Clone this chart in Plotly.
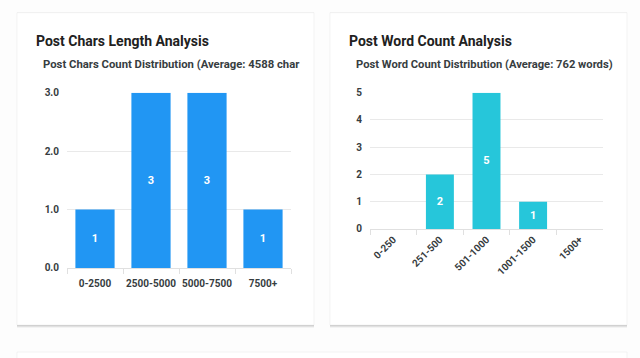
import plotly.graph_objects as go

chars_categories = ["0-2500", "2500-5000", "5000-7500", "7500+"]
chars_counts = [1, 3, 3, 1]
chars_ticks = [0, 1, 2, 3]
chars_tick_labels = ["0.0", "1.0", "2.0", "3.0"]

words_categories = ["0-250", "251-500", "501-1000", "1001-1500", "1500+"]
words_counts = [0, 2, 5, 1, 0]
words_ticks = [0, 1, 2, 3, 4, 5]

card1_title = "Post Chars Length Analysis"
card1_subtitle = "Post Chars Count Distribution (Average: 4588 char"
card2_title = "Post Word Count Analysis"
card2_subtitle = "Post Word Count Distribution (Average: 762 words)"

W, H = 640, 358
FONT = "Roboto"
LABEL_COLOR = "#373d3f"
GRID = "#e9e9e9"


def px(x):
    return x / W


def py(y):
    return 1 - ((y - 5.4) / 0.968) / H


fig = go.Figure()

fig.add_trace(go.Bar(
    x=chars_categories, y=chars_counts, xaxis="x", yaxis="y",
    marker=dict(color="#2196F3", line=dict(width=0)),
    width=0.7,
    text=chars_counts, textposition="inside", insidetextanchor="middle",
    textfont=dict(color="white", size=11, family=FONT, weight="bold"),
    textangle=0, hoverinfo="x+y",
))
fig.add_trace(go.Bar(
    x=words_categories, y=words_counts, xaxis="x2", yaxis="y2",
    marker=dict(color="#26C6DA", line=dict(width=0)),
    width=0.6,
    text=[str(v) if v else "" for v in words_counts],
    textposition="inside", insidetextanchor="middle",
    textfont=dict(color="white", size=11, family=FONT, weight="bold"),
    textangle=0, hoverinfo="x+y",
))

shapes = []
for (x0, x1, y0, y1) in [(17, 314, 13, 325), (330, 627, 13, 325), (17, 627, 352, 420)]:
    for off, col in [(3, "rgba(0,0,0,0.04)"), (2, "rgba(0,0,0,0.07)"), (1, "rgba(0,0,0,0.12)")]:
        shapes.append(dict(type="rect", xref="paper", yref="paper",
                           x0=px(x0), x1=px(x1), y0=py(y0 + off - 1), y1=py(y1 + off),
                           line=dict(width=0), fillcolor=col, layer="below"))
    shapes.append(dict(type="rect", xref="paper", yref="paper",
                       x0=px(x0), x1=px(x1), y0=py(y0), y1=py(y1),
                       line=dict(width=0.6, color="#ececec"), fillcolor="white", layer="below"))

annotations = [
    dict(text=card1_title, x=px(34), y=py(41), xref="paper", yref="paper",
         xanchor="left", yanchor="middle", showarrow=False,
         font=dict(family=FONT, size=14, color="#212121", weight="bold")),
    dict(text=card1_subtitle, x=px(41), y=py(65), xref="paper", yref="paper",
         xanchor="left", yanchor="middle", showarrow=False,
         font=dict(family=FONT, size=11.3, color=LABEL_COLOR, weight="bold")),
    dict(text=card2_title, x=px(347), y=py(41), xref="paper", yref="paper",
         xanchor="left", yanchor="middle", showarrow=False,
         font=dict(family=FONT, size=14, color="#212121", weight="bold")),
    dict(text=card2_subtitle, x=px(354), y=py(65), xref="paper", yref="paper",
         xanchor="left", yanchor="middle", showarrow=False,
         font=dict(family=FONT, size=11.2, color=LABEL_COLOR, weight="bold")),
]

tickfont = dict(family=FONT, size=10, color=LABEL_COLOR, weight="bold")

fig.update_layout(
    width=W, height=H,
    margin=dict(l=0, r=0, t=0, b=0),
    paper_bgcolor="#fdfdfd", plot_bgcolor="rgba(0,0,0,0)",
    showlegend=False, bargap=0.3,
    shapes=shapes, annotations=annotations,
    xaxis=dict(domain=[px(67), px(291)], anchor="y", type="category",
               categoryorder="array", categoryarray=chars_categories,
               showgrid=False, showline=True, linecolor="#e0e0e0", linewidth=1,
               ticks="outside", tickson="boundaries", ticklen=5, tickcolor="#e0e0e0",
               tickangle=0, ticklabelstandoff=6, tickfont=tickfont, fixedrange=True),
    yaxis=dict(domain=[py(268), py(93)], anchor="x", range=[0, 3],
               tickvals=chars_ticks, ticktext=chars_tick_labels,
               showgrid=True, gridcolor=GRID, zeroline=False, showline=False,
               ticks="", ticklabelstandoff=7, tickfont=tickfont, fixedrange=True),
    xaxis2=dict(domain=[px(370), px(603)], anchor="y2", type="category",
                categoryorder="array", categoryarray=words_categories,
                showgrid=False, showline=True, linecolor="#e0e0e0", linewidth=1,
                ticks="outside", tickson="boundaries", ticklen=5, tickcolor="#e0e0e0",
                tickangle=-45, tickfont=tickfont, fixedrange=True),
    yaxis2=dict(domain=[py(229), py(93)], anchor="x2", range=[0, 5],
                tickvals=words_ticks,
                showgrid=True, gridcolor=GRID, zeroline=False, showline=False,
                ticks="", ticklabelstandoff=7, tickfont=tickfont, fixedrange=True),
)

fig.write_html(
    "out.html", config={"displayModeBar": False},
    post_script=(
        "document.documentElement.style.margin='0';"
        "document.body.style.margin='0';document.body.style.overflow='hidden';"
        "var d=document.getElementById('{plot_id}');"
        "d.style.position='fixed';d.style.top='0';d.style.left='0';"
    ),
)
